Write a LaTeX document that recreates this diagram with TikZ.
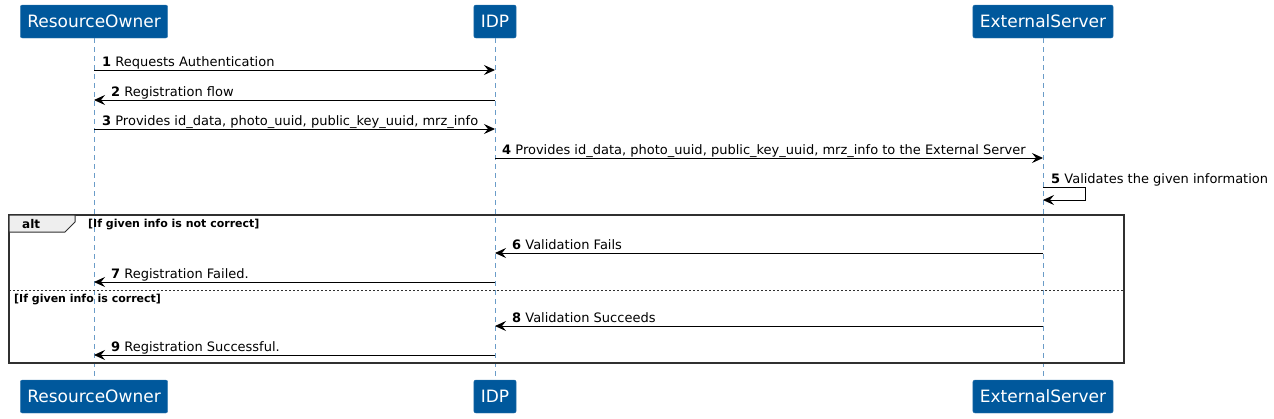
\documentclass[tikz,border=0pt]{standalone}
\usepackage{fontspec}
\setmainfont{DejaVu Sans}
\usetikzlibrary{arrows.meta,positioning,calc}
\definecolor{actor}{HTML}{00589C}
\definecolor{life}{HTML}{6A9CC8}
\definecolor{frm}{HTML}{303030}
\definecolor{tab}{HTML}{EEEEEE}
\tikzset{
  >={Stealth[length=11pt,width=10pt,inset=4pt]},
  actorbox/.style={draw=actor!80,fill=actor,rounded corners=2pt,text=white,font=\fontsize{17}{20}\selectfont,minimum height=33pt,inner xsep=7pt},
  lifeline/.style={draw=life,dash pattern=on 5pt off 4pt,line width=0.6pt},
  msg/.style={->,draw=black,line width=0.9pt},
  msgtxt/.style={anchor=base west,inner sep=0pt,font=\fontsize{13}{15}\selectfont},
  guard/.style={anchor=base west,inner sep=0pt,font=\fontsize{11}{13}\selectfont\bfseries},
}
\begin{document}
\begin{tikzpicture}[x=1pt,y=-1pt]
\useasboundingbox (0,0) rectangle (1274,418);
% participants, top and bottom
\node[actorbox] (ro) at (94,21.5) {ResourceOwner};
\node[actorbox] (idp) at (495,21.5) {IDP};
\node[actorbox] (ext) at (1043,21.5) {ExternalServer};
\node[actorbox] (ro2) at (94,396.5) {ResourceOwner};
\node[actorbox] (idp2) at (495,396.5) {IDP};
\node[actorbox] (ext2) at (1043,396.5) {ExternalServer};
\draw[lifeline] (ro) -- (ro2);
\draw[lifeline] (idp) -- (idp2);
\draw[lifeline] (ext) -- (ext2);
% alt frame
\draw[frm,line width=1.4pt] (9,215) rectangle (1124,363);
\draw[frm,fill=tab,line width=1pt] (9,215) -- (75,215) -- (75,222) -- (65,232) -- (9,232) -- cycle;
\node[guard,font=\fontsize{12}{14}\selectfont\bfseries] (alt) at (22,228) {alt};
\node[guard] (g1) at (88,227) {[If given info is not correct]};
\draw[frm,dash pattern=on 2pt off 2pt,line width=0.6pt] (9,290) -- (1124,290);
\node[guard] (g2) at (14,302) {[If given info is correct]};
% message anchors on the lifelines
\foreach \n/\y in {1/70,2/100,3/129,4/158,5/187,6/253,7/282,8/326,9/355}{
  \coordinate (r\n) at (ro |- 0,\y);
  \coordinate (i\n) at (idp |- 0,\y);
  \coordinate (e\n) at (ext |- 0,\y);
}
\coordinate (e5b) at (ext |- 0,200);
\coordinate (loop1) at (1085,187);
\coordinate (loop2) at (1085,200);
% messages
\draw[msg] (r1) -- (i1);
\node[msgtxt] (t1) at (102,66) {\textbf{1} Requests Authentication};
\draw[msg] (i2) -- (r2);
\node[msgtxt] (t2) at (111,96) {\textbf{2} Registration flow};
\draw[msg] (r3) -- (i3);
\node[msgtxt] (t3) at (102,125) {\textbf{3} Provides id\_data, photo\_uuid, public\_key\_uuid, mrz\_info};
\draw[msg] (i4) -- (e4);
\node[msgtxt] (t4) at (502,154) {\textbf{4} Provides id\_data, photo\_uuid, public\_key\_uuid, mrz\_info to the External Server};
\draw[msg] (e5) -- (loop1) -- (loop2) -- (e5b);
\node[msgtxt] (t5) at (1051,183) {\textbf{5} Validates the given information};
\draw[msg] (e6) -- (i6);
\node[msgtxt] (t6) at (512,249) {\textbf{6} Validation Fails};
\draw[msg] (i7) -- (r7);
\node[msgtxt] (t7) at (111,278) {\textbf{7} Registration Failed.};
\draw[msg] (e8) -- (i8);
\node[msgtxt] (t8) at (512,322) {\textbf{8} Validation Succeeds};
\draw[msg] (i9) -- (r9);
\node[msgtxt] (t9) at (111,351) {\textbf{9} Registration Successful.};
\end{tikzpicture}
\end{document}
